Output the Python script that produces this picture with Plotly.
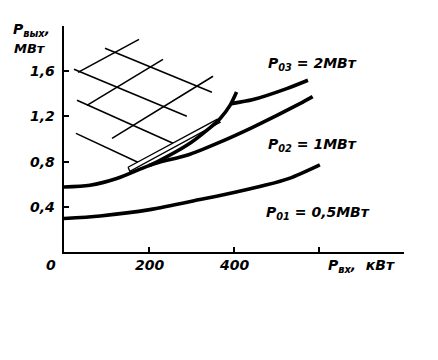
import plotly.graph_objects as go

# ---- data (x: P_вх, кВт ; y: P_вых, МВт) ----
p01_x = [0, 85, 202, 320, 405, 470, 530, 602]
p01_y = [0.296, 0.319, 0.375, 0.464, 0.531, 0.588, 0.652, 0.772]

p02_x = [0, 61, 124, 195, 226, 289, 367, 445, 555, 585]
p02_y = [0.575, 0.59, 0.65, 0.758, 0.796, 0.856, 0.973, 1.106, 1.313, 1.375]

branch_x = [200, 218, 289, 336, 367, 391, 406]
branch_y = [0.765, 0.796, 0.944, 1.077, 1.18, 1.30, 1.416]

p03_x = [394, 445, 524, 574]
p03_y = [1.313, 1.349, 1.446, 1.52]

# hatch grid (pairs of end points)
hatch_a_x = [[96.5, 348], [23.5, 289], [30.6, 256.5], [28.2, 178.8]]
hatch_a_y = [[1.803, 1.413], [1.617, 1.201], [1.342, 0.962], [1.05, 0.785]]
hatch_b_x = [[32.9, 176.5], [54, 232.9], [113, 350.6]]
hatch_b_y = [[1.59, 1.882], [1.298, 1.705], [1.006, 1.555]]

band_x = [150.6, 360, 367, 155, 150.6]
band_y = [0.75, 1.174, 1.148, 0.714, 0.75]

y_ticks = [0.4, 0.8, 1.2, 1.6, 2.0]
y_tick_labels = ["0,4", "0,8", "1,2", "1,6"]
x_ticks = [200, 400, 600, 800]
x_tick_labels = ["200", "400"]

# ---- layout geometry (page has an 8px body margin) ----
OFF = 8
W, H = 438 - OFF, 360 - OFF
# plot area in page pixels: x 64..404, y 26..252
L, R = 64 - OFF, 438 - 404
T, B = 26 - OFF, 360 - 252
PW, PH = W - L - R, H - T - B


def px(xp):  # page pixel -> paper x
    return (xp - 64) / PW


def py(yp):  # page pixel -> paper y
    return (252 - yp) / PH


FONT = dict(family="DejaVu Sans", color="black", size=14, style="italic", weight="bold")

fig = go.Figure()

for xs, ys in zip(hatch_a_x, hatch_a_y):
    fig.add_trace(go.Scatter(x=xs, y=ys, mode="lines", line=dict(color="black", width=1.6),
                             hoverinfo="skip", showlegend=False))
for xs, ys in zip(hatch_b_x, hatch_b_y):
    fig.add_trace(go.Scatter(x=xs, y=ys, mode="lines", line=dict(color="black", width=1.6),
                             hoverinfo="skip", showlegend=False))

fig.add_trace(go.Scatter(x=band_x, y=band_y, mode="lines", fill="toself", fillcolor="white",
                         line=dict(color="black", width=1.4), hoverinfo="skip", showlegend=False))

for xs, ys in [(p01_x, p01_y), (p02_x, p02_y), (branch_x, branch_y), (p03_x, p03_y)]:
    fig.add_trace(go.Scatter(x=xs, y=ys, mode="lines",
                             line=dict(color="black", width=3.6, shape="spline", smoothing=0.8),
                             hoverinfo="skip", showlegend=False))

fig.update_xaxes(range=[0, 800], showline=True, linecolor="black", linewidth=2.2,
                 ticks="inside", tickvals=x_ticks, ticklen=5, tickwidth=2, tickcolor="black",
                 showticklabels=False, showgrid=False, zeroline=False)
fig.update_yaxes(range=[0, 2.0], showline=True, linecolor="black", linewidth=2.2,
                 ticks="inside", tickvals=y_ticks, ticklen=5, tickwidth=2, tickcolor="black",
                 showticklabels=False, showgrid=False, zeroline=False)

ann = []
# y tick labels
for v, t in zip(y_ticks, y_tick_labels):
    ann.append(dict(x=0, y=v, xref="paper", yref="y", text=t, showarrow=False,
                    xanchor="right", yanchor="middle", xshift=-7, font=FONT))
# x tick labels
for v, t in zip(x_ticks, x_tick_labels):
    ann.append(dict(x=v, y=py(265), xref="x", yref="paper", text=t, showarrow=False,
                    xanchor="center", yanchor="middle", font=FONT))
ann.append(dict(x=px(51), y=py(265), xref="paper", yref="paper", text="0", showarrow=False,
                xanchor="center", yanchor="middle", font=FONT))
ann.append(dict(x=px(326), y=py(266), xref="paper", yref="paper", text="P<sub>вх</sub>,  кВт",
                showarrow=False, xanchor="left", yanchor="middle", font=FONT))
ann.append(dict(x=px(11), y=py(30), xref="paper", yref="paper", text="P<sub>вых</sub>,",
                showarrow=False, xanchor="left", yanchor="middle", font=FONT))
ann.append(dict(x=px(12), y=py(48), xref="paper", yref="paper", text="МВт",
                showarrow=False, xanchor="left", yanchor="middle", font=dict(FONT, size=13)))
# curve labels
for xp, yp, t in [(266, 64, "P<sub>03</sub> = 2МВт"), (266, 145, "P<sub>02</sub> = 1МВт"),
                  (264, 213, "P<sub>01</sub> = 0,5МВт")]:
    ann.append(dict(x=px(xp), y=py(yp), xref="paper", yref="paper", text=t, showarrow=False,
                    xanchor="left", yanchor="middle", font=FONT))

fig.update_layout(width=W, height=H, margin=dict(l=L, r=R, t=T, b=B),
                  paper_bgcolor="white", plot_bgcolor="white", annotations=ann)

fig.write_html("out.html")
